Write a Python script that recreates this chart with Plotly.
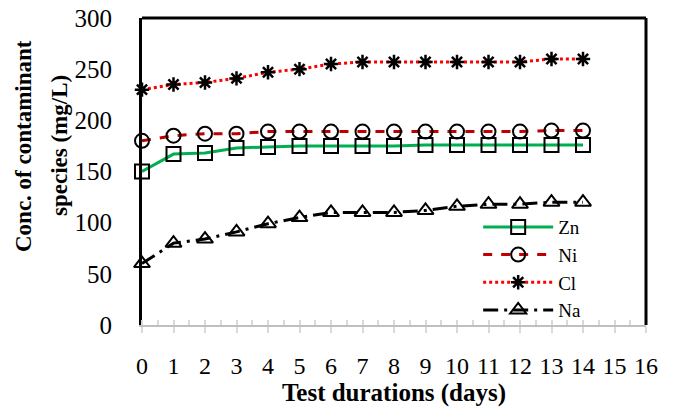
import plotly.graph_objects as go

days = list(range(15))
zn = [150, 167, 168, 173, 174, 175, 175, 175, 175, 176, 176, 176, 176, 176, 176]
ni = [180, 185, 187, 187, 189, 189, 189, 189, 189, 189, 189, 189, 189, 190, 190]
cl = [230, 235, 237, 241, 247, 250, 255, 257, 257, 257, 257, 257, 257, 260, 260]
na = [60, 80, 84, 91, 99, 105, 110, 110, 110, 112, 116, 118, 118, 120, 120]
xticks = list(range(17))
yticks = [0, 50, 100, 150, 200, 250, 300]

FONT = "Liberation Serif, Times New Roman, serif"

fig = go.Figure()
mk = dict(color="black", size=14, line=dict(color="black", width=2))
fig.add_trace(go.Scatter(x=days, y=zn, name="Zn", mode="lines+markers",
                         line=dict(color="#00B050", width=3),
                         marker=dict(symbol="square-open", **mk), cliponaxis=False))
fig.add_trace(go.Scatter(x=days, y=ni, name="Ni", mode="lines+markers",
                         line=dict(color="#C00000", width=3, dash="dash"),
                         marker=dict(symbol="circle-open", **mk), cliponaxis=False))
fig.add_trace(go.Scatter(x=days, y=cl, name="Cl", mode="lines+markers",
                         line=dict(color="#FF0000", width=3, dash="dot"),
                         marker=dict(symbol="asterisk-open", color="black", size=12,
                                     line=dict(color="black", width=2.5)), cliponaxis=False))
fig.add_trace(go.Scatter(x=days, y=na, name="Na", mode="lines+markers",
                         line=dict(color="black", width=3, dash="longdashdot"),
                         marker=dict(symbol="triangle-up-open", **mk), cliponaxis=False))

fig.update_layout(
    width=674, height=409,
    margin=dict(l=142, r=28, t=18, b=84),
    paper_bgcolor="white", plot_bgcolor="white",
    font=dict(family=FONT, color="black", size=24),
    showlegend=True,
    legend=dict(x=0.667, y=0.381, xanchor="left", yanchor="top",
                font=dict(family=FONT, size=19), bgcolor="rgba(0,0,0,0)",
                tracegroupgap=0, itemwidth=70),
    xaxis=dict(range=[0, 16], tickvals=xticks, ticktext=[str(v) for v in xticks],
               automargin=False, ticklabeloverflow="allow",
               showgrid=False, zeroline=False, showline=True,
               linecolor="#BFBFBF", linewidth=2,
               ticks="outside", ticklen=6, tickcolor="#D9D9D9", tickwidth=1.5,
               minor=dict(dtick=0.5, ticks="inside", ticklen=5, tickcolor="#D9D9D9", tickwidth=1.5),
               tickfont=dict(size=24), ticklabelstandoff=12,
               title=dict(text="<b>Test durations (days)</b>", font=dict(size=25), standoff=0)),
    yaxis=dict(range=[0, 300], tickvals=yticks, automargin=False, ticklabeloverflow="allow",
               showgrid=False, zeroline=False, showline=True,
               linecolor="black", linewidth=3, ticks="", ticklabelstandoff=22,
               tickfont=dict(size=25)),
    annotations=[
        dict(text="<b>Conc. of contaminant</b>", xref="paper", yref="paper",
             x=(23 - 142) / 504, y=0.583, textangle=-90, showarrow=False,
             xanchor="center", yanchor="middle", font=dict(size=23)),
        dict(text="<b>species (mg/L)</b>", xref="paper", yref="paper",
             x=(59 - 142) / 504, y=0.583, textangle=-90, showarrow=False,
             xanchor="center", yanchor="middle", font=dict(size=23)),
    ],
    shapes=[
        dict(type="line", xref="paper", yref="paper", x0=0, x1=1, y0=1, y1=1,
             line=dict(color="black", width=3)),
        dict(type="line", xref="paper", yref="paper", x0=1, x1=1, y0=0, y1=1,
             line=dict(color="black", width=3)),
    ],
)

fig.write_html("out.html", config={"displayModeBar": False},
               post_script="document.body.style.margin='0';")
